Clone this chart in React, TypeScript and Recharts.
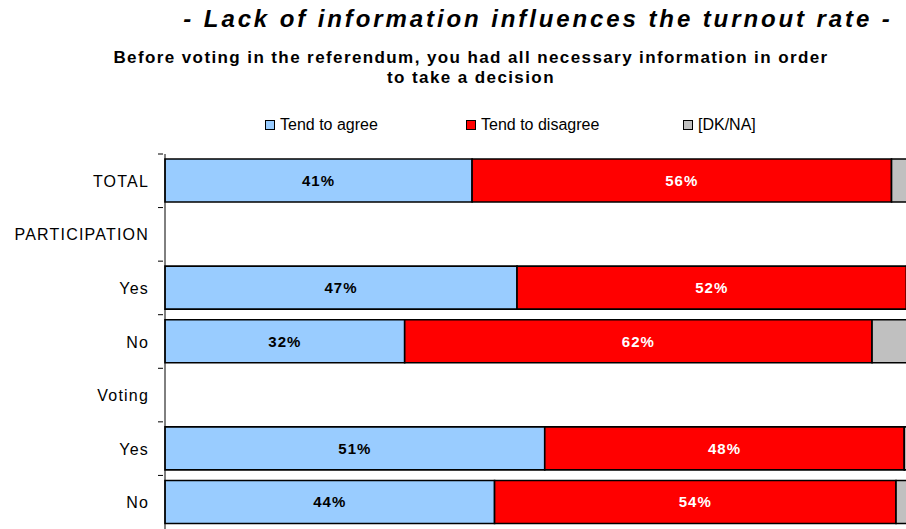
import React from 'react';
import { BarChart, Bar, XAxis, YAxis, LabelList } from 'recharts';

const categories = ['TOTAL', 'PARTICIPATION', 'Yes', 'No', 'Voting', 'Yes', 'No'];
const agree = [41, null, 47, 32, null, 50.7, 44];
const disagree = [56, null, 52, 62.4, null, 48, 53.6];
const dkna = [3, null, 1, 5.6, null, 1.3, 2.4];

const series = [
  { key: 'agree', name: 'Tend to agree', color: '#99CCFF', label: '#000000', values: agree },
  { key: 'disagree', name: 'Tend to disagree', color: '#FF0000', label: '#FFFFFF', values: disagree },
  { key: 'dkna', name: '[DK/NA]', color: '#C0C0C0', label: null, values: dkna },
];

const data = categories.map((name, i) => ({
  id: i,
  name,
  agree: agree[i],
  disagree: disagree[i],
  dkna: dkna[i],
}));

const FONT = '"Liberation Sans", Arial, sans-serif';
const CHART_W = 930;
const CHART_H = 529;
const MARGIN = { top: 154, right: 16, left: 0, bottom: 0 };
const BAND = (CHART_H - MARGIN.top - MARGIN.bottom) / categories.length;

const CategoryTick = (props: any) => {
  const { x, y, payload } = props;
  const top = y - BAND / 2;
  return (
    <g>
      <line x1={x - 5} x2={x} y1={top} y2={top} stroke="#000" strokeWidth={1} />
      <text
        x={x - 14}
        y={y}
        dy={6}
        textAnchor="end"
        fontFamily={FONT}
        fontSize={16}
        letterSpacing={1.2}
        fill="#000"
      >
        {categories[payload.index] ?? payload.value}
      </text>
    </g>
  );
};

const pct = (v: any) => (v == null ? '' : `${Math.round(v)}%`);

export default function App() {
  return (
    <div
      style={{
        position: 'fixed',
        left: 0,
        top: 0,
        width: 906,
        height: 529,
        overflow: 'hidden',
        background: '#fff',
        fontFamily: FONT,
      }}
    >
      <div
        style={{
          position: 'absolute',
          top: 5,
          left: 170,
          width: 736,
          textAlign: 'center',
          fontSize: 24,
          fontWeight: 'bold',
          fontStyle: 'italic',
          letterSpacing: 2.9,
          whiteSpace: 'nowrap',
          color: '#000',
        }}
      >
        - Lack of information influences the turnout rate -
      </div>
      <div
        style={{
          position: 'absolute',
          top: 48,
          left: 71,
          width: 800,
          textAlign: 'center',
          fontSize: 17,
          fontWeight: 'bold',
          letterSpacing: 1.4,
          lineHeight: '20px',
          whiteSpace: 'nowrap',
          color: '#000',
        }}
      >
        Before voting in the referendum, you had all necessary information in order
        <br />
        to take a decision
      </div>
      {series.map((s, i) => (
        <div
          key={s.key}
          style={{
            position: 'absolute',
            top: 116,
            left: [265, 466, 683][i],
            display: 'flex',
            alignItems: 'center',
            fontSize: 16,
            color: '#000',
            whiteSpace: 'nowrap',
          }}
        >
          <span
            style={{
              display: 'inline-block',
              width: 8,
              height: 8,
              background: s.color,
              border: '1px solid #000',
              marginRight: 5,
            }}
          />
          {s.name}
        </div>
      ))}
      <div style={{ position: 'absolute', left: 0, top: 0 }}>
        <BarChart
          width={CHART_W}
          height={CHART_H}
          data={data}
          layout="vertical"
          margin={MARGIN}
          barSize={43}
        >
          <XAxis type="number" domain={[0, 100]} hide />
          <YAxis
            type="category"
            dataKey="id"
            width={165}
            axisLine={{ stroke: '#000', strokeWidth: 1 }}
            tickLine={false}
            tickSize={0}
            tick={<CategoryTick />}
            interval={0}
          />
          {series.map((s) => (
            <Bar
              key={s.key}
              dataKey={s.key}
              stackId="a"
              fill={s.color}
              stroke="#000"
              strokeWidth={1.6}
              isAnimationActive={false}
            >
              {s.label && (
                <LabelList
                  dataKey={s.key}
                  position="center"
                  formatter={pct}
                  fill={s.label}
                  fontFamily={FONT}
                  fontSize={15}
                  fontWeight="bold"
                  letterSpacing={1}
                />
              )}
            </Bar>
          ))}
        </BarChart>
      </div>
    </div>
  );
}
